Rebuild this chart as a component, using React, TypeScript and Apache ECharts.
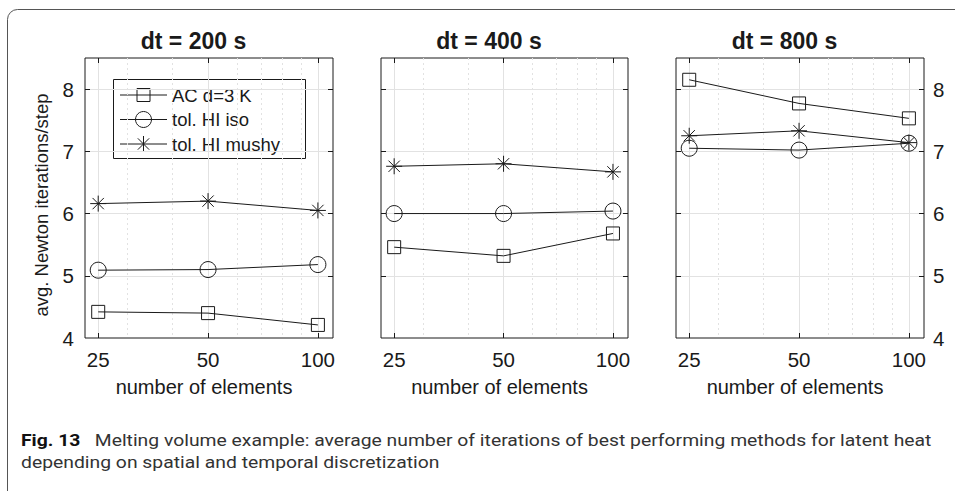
import React, { useEffect, useRef } from 'react';
import * as echarts from 'echarts';

// ---- data ----
const panelTitles = ['dt = 200 s', 'dt = 400 s', 'dt = 800 s'];
const elementCounts = [25, 50, 100];
const seriesNames = ['AC d=3 K', 'tol. HI iso', 'tol. HI mushy'];
const acValues = [
  [4.42, 4.40, 4.21],
  [5.46, 5.32, 5.68],
  [8.15, 7.77, 7.53],
];
const isoValues = [
  [5.09, 5.10, 5.18],
  [6.00, 6.00, 6.04],
  [7.05, 7.02, 7.13],
];
const mushyValues = [
  [6.16, 6.20, 6.05],
  [6.76, 6.80, 6.67],
  [7.25, 7.33, 7.14],
];
const xMajorTicks = [25, 50, 100];
const xMinorTicks = [30, 40, 60, 70, 80, 90];
const yLabelTicks = [4, 5, 6, 7, 8];
const yGridTicks = [5, 6, 7, 8];
const xAxisName = 'number of elements';
const yAxisName = 'avg. Newton iterations/step';
const captionBold = 'Fig. 13';
const captionLine1 = 'Melting volume example: average number of iterations of best performing methods for latent heat';
const captionLine2 = 'depending on spatial and temporal discretization';

// ---- styling / layout ----
const FONT = '"Liberation Sans", Arial, Helvetica, sans-serif';
const CAP_FONT = 'Roboto, "Open Sans", sans-serif';
const INK = '#1a1a1a';
const GRID_C = '#e2e2e2';
const panelLefts = [85, 381, 676];
const panelWidths = [248, 247, 248];
const PANEL_TOP = 58;
const PANEL_H = 280;
const TICK_FS = 20.5;
const ASTERISK = 'path://M10,0L10,20M0,10L20,10M2.93,2.93L17.07,17.07M2.93,17.07L17.07,2.93';

const seriesValues = [acValues, isoValues, mushyValues];
const seriesSymbols = ['rect', 'circle', ASTERISK];
const seriesSymbolSizes = [13, 16, 16];

function measure(text: string, font: string): number {
  const c = document.createElement('canvas').getContext('2d');
  if (!c) return text.length * 8;
  c.font = font;
  return c.measureText(text).width;
}

export default function App() {
  const ref = useRef<HTMLDivElement>(null);
  useEffect(() => {
    if (!ref.current) return;
    const chart = echarts.init(ref.current, null, { renderer: 'svg' });

    const grids: any[] = [];
    const xAxes: any[] = [];
    const yAxes: any[] = [];
    const series: any[] = [];
    const textBase = { color: INK, fontFamily: FONT };

    for (let i = 0; i < 3; i++) {
      grids.push({
        left: panelLefts[i], top: PANEL_TOP, width: panelWidths[i], height: PANEL_H,
        show: true, borderColor: INK, borderWidth: 1, backgroundColor: 'transparent',
      });
      xAxes.push({
        type: 'log', gridIndex: i, min: 23, max: 110, position: 'bottom',
        axisLine: { show: false },
        axisTick: { show: true, inside: true, length: 5, customValues: xMajorTicks, lineStyle: { color: INK } },
        axisLabel: {
          show: true, customValues: xMajorTicks, margin: 11, fontSize: TICK_FS, ...textBase,
          formatter: (v: number) => String(Math.round(v)),
        },
        splitLine: { show: true, lineStyle: { color: GRID_C, width: 1 } },
        name: xAxisName, nameLocation: 'middle', nameGap: 39,
        nameTextStyle: { fontSize: 20, padding: [0, 10, 0, 0], ...textBase },
      });
      xAxes.push({
        type: 'log', gridIndex: i, min: 23, max: 110, position: 'bottom',
        axisLine: { show: false },
        axisTick: { show: false, customValues: xMinorTicks },
        axisLabel: { show: false },
        splitLine: { show: true, lineStyle: { color: GRID_C, width: 1, type: [2, 3] } },
      });
      xAxes.push({
        type: 'log', gridIndex: i, min: 23, max: 110, position: 'top',
        axisLine: { show: false },
        axisTick: { show: true, inside: true, length: 5, customValues: xMajorTicks, lineStyle: { color: INK } },
        axisLabel: { show: false },
        splitLine: { show: false },
        name: panelTitles[i], nameLocation: 'middle', nameGap: 6,
        nameTextStyle: { fontSize: 23, fontWeight: 'bold', padding: [0, 31, 0, 0], ...textBase },
      });
      yAxes.push({
        type: 'value', gridIndex: i, min: 4, max: 8.5, position: 'left',
        axisLine: { show: false },
        axisTick: { show: true, inside: true, length: 5, customValues: yGridTicks, lineStyle: { color: INK } },
        axisLabel: { show: i === 0, customValues: yLabelTicks, margin: 11, fontSize: TICK_FS, ...textBase },
        splitLine: { show: true, lineStyle: { color: GRID_C, width: 1 } },
        name: i === 0 ? yAxisName : '', nameLocation: 'middle', nameGap: 34, nameRotate: 90,
        nameTextStyle: { fontSize: 18.5, padding: [0, 14, 0, 0], ...textBase },
      });
      yAxes.push({
        type: 'value', gridIndex: i, min: 4, max: 8.5, position: 'right',
        axisLine: { show: false },
        axisTick: { show: true, inside: true, length: 5, customValues: yGridTicks, lineStyle: { color: INK } },
        axisLabel: { show: i === 2, customValues: yLabelTicks, margin: 9, fontSize: TICK_FS, ...textBase },
        splitLine: { show: false },
      });
      for (let s = 0; s < 3; s++) {
        series.push({
          type: 'line', name: seriesNames[s],
          xAxisIndex: i * 3, yAxisIndex: i * 2,
          data: elementCounts.map((n, k) => [n, seriesValues[s][i][k]]),
          symbol: seriesSymbols[s], symbolSize: seriesSymbolSizes[s],
          showAllSymbol: true,
          lineStyle: { color: INK, width: 1 },
          itemStyle: { color: 'rgba(0,0,0,0)', borderColor: INK, borderWidth: 1 },
          emphasis: { disabled: true }, silent: true, z: 5,
        });
      }
    }

    // legend drawn with graphic elements
    const legX = 113.5, legY = 79.5, legW = 192, legH = 79;
    const rowYs = [95, 119.5, 144];
    const mx = 143.5;
    const legendChildren: any[] = [
      { type: 'rect', shape: { x: legX, y: legY, width: legW, height: legH }, style: { fill: '#fff', stroke: INK, lineWidth: 1 } },
    ];
    rowYs.forEach((cy, r) => {
      legendChildren.push({ type: 'line', shape: { x1: 120, y1: cy, x2: 167, y2: cy }, style: { stroke: INK, lineWidth: 1 } });
      if (r === 0) {
        legendChildren.push({ type: 'rect', shape: { x: mx - 6.5, y: cy - 6.5, width: 13, height: 13 }, style: { fill: 'none', stroke: INK, lineWidth: 1 } });
      } else if (r === 1) {
        legendChildren.push({ type: 'circle', shape: { cx: mx, cy, r: 8 }, style: { fill: 'none', stroke: INK, lineWidth: 1 } });
      } else {
        const a = 8, d = 5.66;
        legendChildren.push({ type: 'line', shape: { x1: mx, y1: cy - a, x2: mx, y2: cy + a }, style: { stroke: INK, lineWidth: 1 } });
        legendChildren.push({ type: 'line', shape: { x1: mx - d, y1: cy - d, x2: mx + d, y2: cy + d }, style: { stroke: INK, lineWidth: 1 } });
        legendChildren.push({ type: 'line', shape: { x1: mx - d, y1: cy + d, x2: mx + d, y2: cy - d }, style: { stroke: INK, lineWidth: 1 } });
      }
      legendChildren.push({
        type: 'text', x: 172, y: cy,
        style: { text: seriesNames[r], fontSize: 18.5, fontFamily: FONT, fill: INK, verticalAlign: 'middle', align: 'left' },
      });
    });

    // caption
    const capSize = 16.5;
    const w1 = measure(captionBold, `bold ${capSize}px Roboto`) + measure('   ' + captionLine1, `${capSize}px Roboto`);
    const capScale = Math.min(1.2, 911 / w1);

    chart.setOption({
      animation: false,
      backgroundColor: '#fff',
      grid: grids,
      xAxis: xAxes,
      yAxis: yAxes,
      series,
      graphic: [
        {
          type: 'rect', z: -10, silent: true,
          shape: { x: 7.5, y: 9.5, width: 1200, height: 1200, r: 10 },
          style: { fill: 'none', stroke: '#555', lineWidth: 1 },
        },
        { type: 'group', z: 100, children: legendChildren },
        {
          type: 'text', x: 21, y: 440, scaleX: capScale, z: 10,
          style: {
            text: `{b|${captionBold}}   ${captionLine1}`,
            fontSize: capSize, fontFamily: CAP_FONT, fill: '#333', verticalAlign: 'middle',
            rich: { b: { fontWeight: 'bold', fontSize: capSize, fontFamily: CAP_FONT, fill: '#111' } },
          },
        },
        {
          type: 'text', x: 21, y: 462.5, scaleX: capScale, z: 10,
          style: { text: captionLine2, fontSize: capSize, fontFamily: CAP_FONT, fill: '#333', verticalAlign: 'middle' },
        },
      ],
    });
    return () => chart.dispose();
  }, []);
  return <div ref={ref} style={{ position: 'absolute', left: 0, top: 0, width: 955, height: 491 }} />;
}
